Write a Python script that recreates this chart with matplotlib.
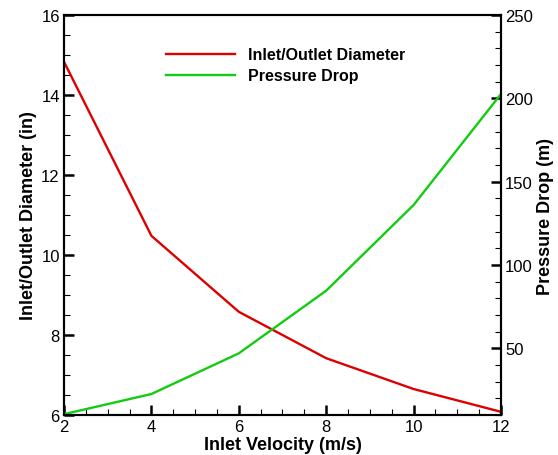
import matplotlib
matplotlib.use("Agg")
import matplotlib.pyplot as plt
from matplotlib.ticker import MultipleLocator

plt.rcParams["font.family"] = ["Liberation Sans", "DejaVu Sans"]

velocity = [2, 4, 6, 8, 10, 12]
diameter = [14.83, 10.48, 8.58, 7.42, 6.65, 6.08]
pressure_drop = [10.5, 22.6, 47.0, 84.6, 136.0, 202.6]

fig = plt.figure(figsize=(5.58, 4.56), dpi=100)
ax = fig.add_axes([0.1147, 0.0877, 0.7831, 0.8772])
ax2 = ax.twinx()

l1, = ax.plot(velocity, diameter, color="#dd0000", linewidth=1.7,
              label="Inlet/Outlet Diameter")
l2, = ax2.plot(velocity, pressure_drop, color="#11cc11", linewidth=1.7,
               label="Pressure Drop")

ax.set_xlim(2, 12)
ax.set_ylim(6, 16)
ax2.set_ylim(10, 250)

ax.xaxis.set_major_locator(MultipleLocator(2))
ax.xaxis.set_minor_locator(MultipleLocator(0.5))
ax.yaxis.set_major_locator(MultipleLocator(2))
ax.yaxis.set_minor_locator(MultipleLocator(0.5))
ax2.yaxis.set_major_locator(MultipleLocator(50))
ax2.yaxis.set_minor_locator(MultipleLocator(10))

for a in (ax, ax2):
    a.tick_params(which="major", direction="in", length=7, width=1.8,
                  labelsize=12, pad=3)
    a.tick_params(which="minor", direction="in", length=4, width=0.8)
    for s in a.spines.values():
        s.set_linewidth(1.5)
ax.tick_params(axis="y", which="both", right=False)
ax.tick_params(axis="x", which="both", top=False)

ax.set_xlabel("Inlet Velocity (m/s)", fontsize=13, fontweight="bold", labelpad=1)
ax.set_ylabel("Inlet/Outlet Diameter (in)", fontsize=13, fontweight="bold", labelpad=3)
ax2.set_ylabel("Pressure Drop (m)", fontsize=13, fontweight="bold", labelpad=3)

leg = ax.legend(handles=[l1, l2], loc="upper left", bbox_to_anchor=(0.22, 0.935),
                frameon=False, handlelength=5.0, handletextpad=0.9,
                labelspacing=0.45, borderaxespad=0)
for t in leg.get_texts():
    t.set_fontsize(11.5)
    t.set_fontweight("bold")

fig.savefig("out.png", dpi=100)
